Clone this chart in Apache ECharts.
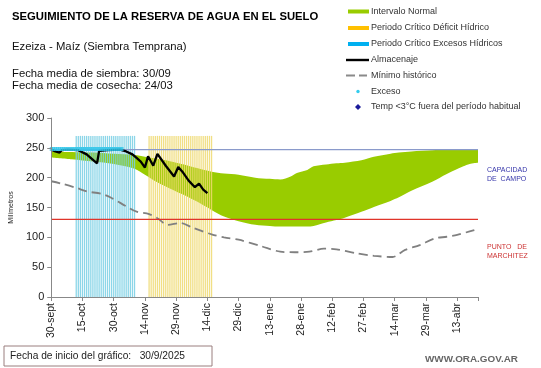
<!DOCTYPE html>
<html>
<head>
<meta charset="utf-8">
<script src="https://cdn.jsdelivr.net/npm/echarts@6/dist/echarts.min.js"></script>
<style>
html,body{margin:0;padding:0;background:#fff;}
#chart{width:541px;height:368px;}
</style>
</head>
<body>
<div id="chart"></div>
<script>
// ---- data (days counted from 30-sept) ----
const tickLabels = ['30-sept','15-oct','30-oct','14-nov','29-nov','14-dic','29-dic','13-ene','28-ene','12-feb','27-feb','14-mar','29-mar','13-abr'];
const lastDay = 205;

const bandDays  = [0,10,20,30,40,45,50,55,60,65,70,77,83,90,98,105,110,115,118,123,126,132,137,141,149,155,163,167,173,183,190,198,201,205];
const bandUpper = [244,243,242,240,238,235,232,229,225,221,216,210,207,205,200,198,197,202,208,213,219,222,224,225,229,235,240,242,244,246,247,247,247,247];
const bandLower = [234,231,227,223,215,205,194,185,177,169,160,146,135,127,121,119,118,118,118,118,119,125,129,133,143,151,161,167,178,193,206,219,223,225];

const storageDays   = [0,2,4,5,8,13,17,22,23,27,33,36,39,41,43,45,46.5,49,51,55,59,61,63,66,69,71,73,75];
const storageValues = [247,244,242,246,247,246,239,224,245,246,247,244,239,233,227,217,236,220,240,220,202,218,210,195,184,190,180,174];

const minDays   = [0,5,12,17,24,29,36,41,47,51,56,62,68,77,83,90,101,110,117,124,131,137,147,155,164,170,177,184,190,195,201,205];
const minValues = [194,190,183,177,173,166,152,143,139,132,121,124,116,105,100,96,85,76,75,76,81,80,73,69,67,79,87,98,101,104,110,114];

const excessDays = [0,1,2,3,4,5,6,7,8,9,10,11,12,13,14,15,16,17,18,19,20,21,22,23,24,25,26,27,28,29,30,31,32,33,34];
const excessValue = 248;

const wetPeriodDays = [12,13,14,15,16,17,18,19,20,21,22,23,24,25,26,27,28,29,30,31,32,33,34,35,36,37,38,39,40];
const dryPeriodDays = [47,48,49,50,51,52,53,54,55,56,57,58,59,60,61,62,63,64,65,66,67,68,69,70,71,72,73,74,75,76,77];
const periodHeight = 270;

const fieldCapacity = 247;
const wiltingPoint = 130;

const legendNames = ['Intervalo Normal','Periodo Crítico Déficit Hídrico','Periodo Crítico Excesos Hídricos','Almacenaje','Mínimo histórico','Exceso','Temp <3°C fuera del período habitual'];

// ---- build ----
const zip = (a, b) => a.map((d, i) => [d, b[i]]);
const font = 'Liberation Sans, Arial, sans-serif';

// hand-drawn legend (icons + real text)
const legRows = [11.5, 28, 44, 60, 75.5, 91.5, 107];
const lx = 348, lw = 21, tx = 371;
const legendGraphics = [
  {type: 'rect', shape: {x: lx, y: legRows[0] - 2, width: lw, height: 4}, style: {fill: '#99cc00'}},
  {type: 'rect', shape: {x: lx, y: legRows[1] - 2, width: lw, height: 4}, style: {fill: '#ffc000'}},
  {type: 'rect', shape: {x: lx, y: legRows[2] - 2, width: lw, height: 4}, style: {fill: '#00b0f0'}},
  {type: 'line', shape: {x1: lx - 2, y1: legRows[3], x2: lx + lw, y2: legRows[3]}, style: {stroke: '#000', lineWidth: 2.4}},
  {type: 'line', shape: {x1: lx - 2, y1: legRows[4], x2: lx + lw - 2, y2: legRows[4]}, style: {stroke: '#8a8a8a', lineWidth: 2, lineDash: [9, 4]}},
  {type: 'circle', shape: {cx: lx + 10, cy: legRows[5], r: 1.7}, style: {fill: '#33ccee'}},
  {type: 'polygon', shape: {points: [[lx + 10, legRows[6] - 3], [lx + 13, legRows[6]], [lx + 10, legRows[6] + 3], [lx + 7, legRows[6]]]}, style: {fill: '#1a1a9a'}}
].concat(legendNames.map((n, i) => ({
  type: 'text', x: tx, y: legRows[i],
  style: {text: n, font: '9px ' + font, fill: '#333', verticalAlign: 'middle'}
})));

const refLine = (name, value, color, width) => ({
  name: name, type: 'line', z: 4.5, symbol: 'none', silent: true,
  data: [[0, value], [lastDay, value]],
  lineStyle: {color: color, width: width, type: 'solid', opacity: 1},
  itemStyle: {color: color}
});

const chart = echarts.init(document.getElementById('chart'), null, {renderer: 'canvas'});
chart.setOption({
  animation: false,
  textStyle: {fontFamily: font},
  grid: {left: 32, right: 63, top: 118, bottom: 71},
  xAxis: {
    type: 'value', min: 0, max: lastDay, interval: 15,
    axisLine: {lineStyle: {color: '#888', width: 1}},
    axisTick: {show: true, length: 4, lineStyle: {color: '#888'}},
    splitLine: {show: false},
    axisLabel: {
      rotate: 90, margin: 6, fontSize: 10.5, color: '#222',
      formatter: v => (v % 15 === 0 && tickLabels[v / 15]) ? tickLabels[v / 15] : ''
    }
  },
  yAxis: {
    type: 'value', min: 0, max: 300, interval: 50, z: 10,
    name: 'Milímetros', nameLocation: 'middle', nameRotate: 90, nameGap: 22,
    nameTextStyle: {fontSize: 7, color: '#222'},
    axisLine: {show: true, lineStyle: {color: '#888', width: 1}},
    axisTick: {show: true, length: 4, lineStyle: {color: '#888'}},
    splitLine: {show: false},
    axisLabel: {fontSize: 11, color: '#222', margin: 7}
  },
  graphic: [
    {type: 'text', x: 12, y: 16.6, style: {text: 'SEGUIMIENTO DE LA RESERVA DE AGUA EN EL SUELO', font: 'bold 11.3px ' + font, fill: '#000', verticalAlign: 'middle'}},
    {type: 'text', x: 12, y: 46.5, style: {text: 'Ezeiza - Maíz (Siembra Temprana)', font: '11.3px ' + font, fill: '#111', verticalAlign: 'middle'}},
    {type: 'text', x: 12, y: 74, style: {text: 'Fecha media de siembra: 30/09', font: '11.3px ' + font, fill: '#111', verticalAlign: 'middle'}},
    {type: 'text', x: 12, y: 86, style: {text: 'Fecha media de cosecha: 24/03', font: '11.3px ' + font, fill: '#111', verticalAlign: 'middle'}},
    {type: 'text', x: 487, y: 170, style: {text: 'CAPACIDAD', font: '7px ' + font, fill: '#3535aa', verticalAlign: 'middle'}},
    {type: 'text', x: 487, y: 179, style: {text: 'DE  CAMPO', font: '7px ' + font, fill: '#3535aa', verticalAlign: 'middle'}},
    {type: 'text', x: 487, y: 247, style: {text: 'PUNTO   DE', font: '7px ' + font, fill: '#cc3333', verticalAlign: 'middle'}},
    {type: 'text', x: 487, y: 256, style: {text: 'MARCHITEZ', font: '7px ' + font, fill: '#cc3333', verticalAlign: 'middle'}},
    {type: 'rect', shape: {x: 4, y: 346, width: 208, height: 20}, style: {fill: '#fff', stroke: '#9a7f7f', lineWidth: 1}},
    {type: 'text', x: 10, y: 356, style: {text: 'Fecha de inicio del gráfico:   30/9/2025', font: '10.2px ' + font, fill: '#222', verticalAlign: 'middle'}},
    {type: 'text', x: 425, y: 359, style: {text: 'WWW.ORA.GOV.AR', font: 'bold 9.9px ' + font, fill: '#666', verticalAlign: 'middle'}}
  ].concat(legendGraphics),
  series: [
    {
      name: 'Intervalo Normal', type: 'line', z: 1, smooth: 0.3, symbol: 'none',
      data: zip(bandDays, bandUpper),
      lineStyle: {width: 0}, itemStyle: {color: '#99cc00'},
      areaStyle: {color: '#99cc00', opacity: 1}
    },
    {
      name: 'mask', type: 'line', z: 2, smooth: 0.3, symbol: 'none', silent: true,
      data: zip(bandDays, bandLower),
      lineStyle: {width: 0}, itemStyle: {color: '#fff'},
      areaStyle: {color: '#fff', opacity: 1}
    },
    {
      name: 'Periodo Crítico Excesos Hídricos', type: 'bar', z: 3, barWidth: 1.3, barGap: '-100%',
      data: wetPeriodDays.map(d => [d, periodHeight]),
      itemStyle: {color: '#78cfe4', opacity: 0.85}
    },
    {
      name: 'Periodo Crítico Déficit Hídrico', type: 'bar', z: 3, barWidth: 1.3, barGap: '-100%',
      data: dryPeriodDays.map(d => [d, periodHeight]),
      itemStyle: {color: '#eed970', opacity: 0.85}
    },
    {
      name: 'Mínimo histórico', type: 'line', z: 4, smooth: 0.3, symbol: 'none',
      data: zip(minDays, minValues),
      lineStyle: {color: '#808080', width: 1.8, type: [9, 5]}, itemStyle: {color: '#808080'}
    },
    refLine('Capacidad de campo', fieldCapacity, '#8a9acb', 1.3),
    refLine('Punto de marchitez', wiltingPoint, '#e0342a', 1.3),
    {
      name: 'Almacenaje', type: 'line', z: 5, symbol: 'none',
      data: zip(storageDays, storageValues),
      lineStyle: {color: '#000', width: 2.3}, itemStyle: {color: '#000'}
    },
    {
      name: 'Exceso', type: 'scatter', z: 6, symbol: 'rect', symbolSize: [3, 4],
      data: excessDays.map(d => [d, excessValue]),
      itemStyle: {color: '#2fc6ea'}
    },
    {
      name: 'Temp <3°C fuera del período habitual', type: 'scatter', z: 6, symbol: 'diamond', symbolSize: 5,
      data: [], itemStyle: {color: '#1a1a9a'}
    }
  ]
});
</script>
</body>
</html>
